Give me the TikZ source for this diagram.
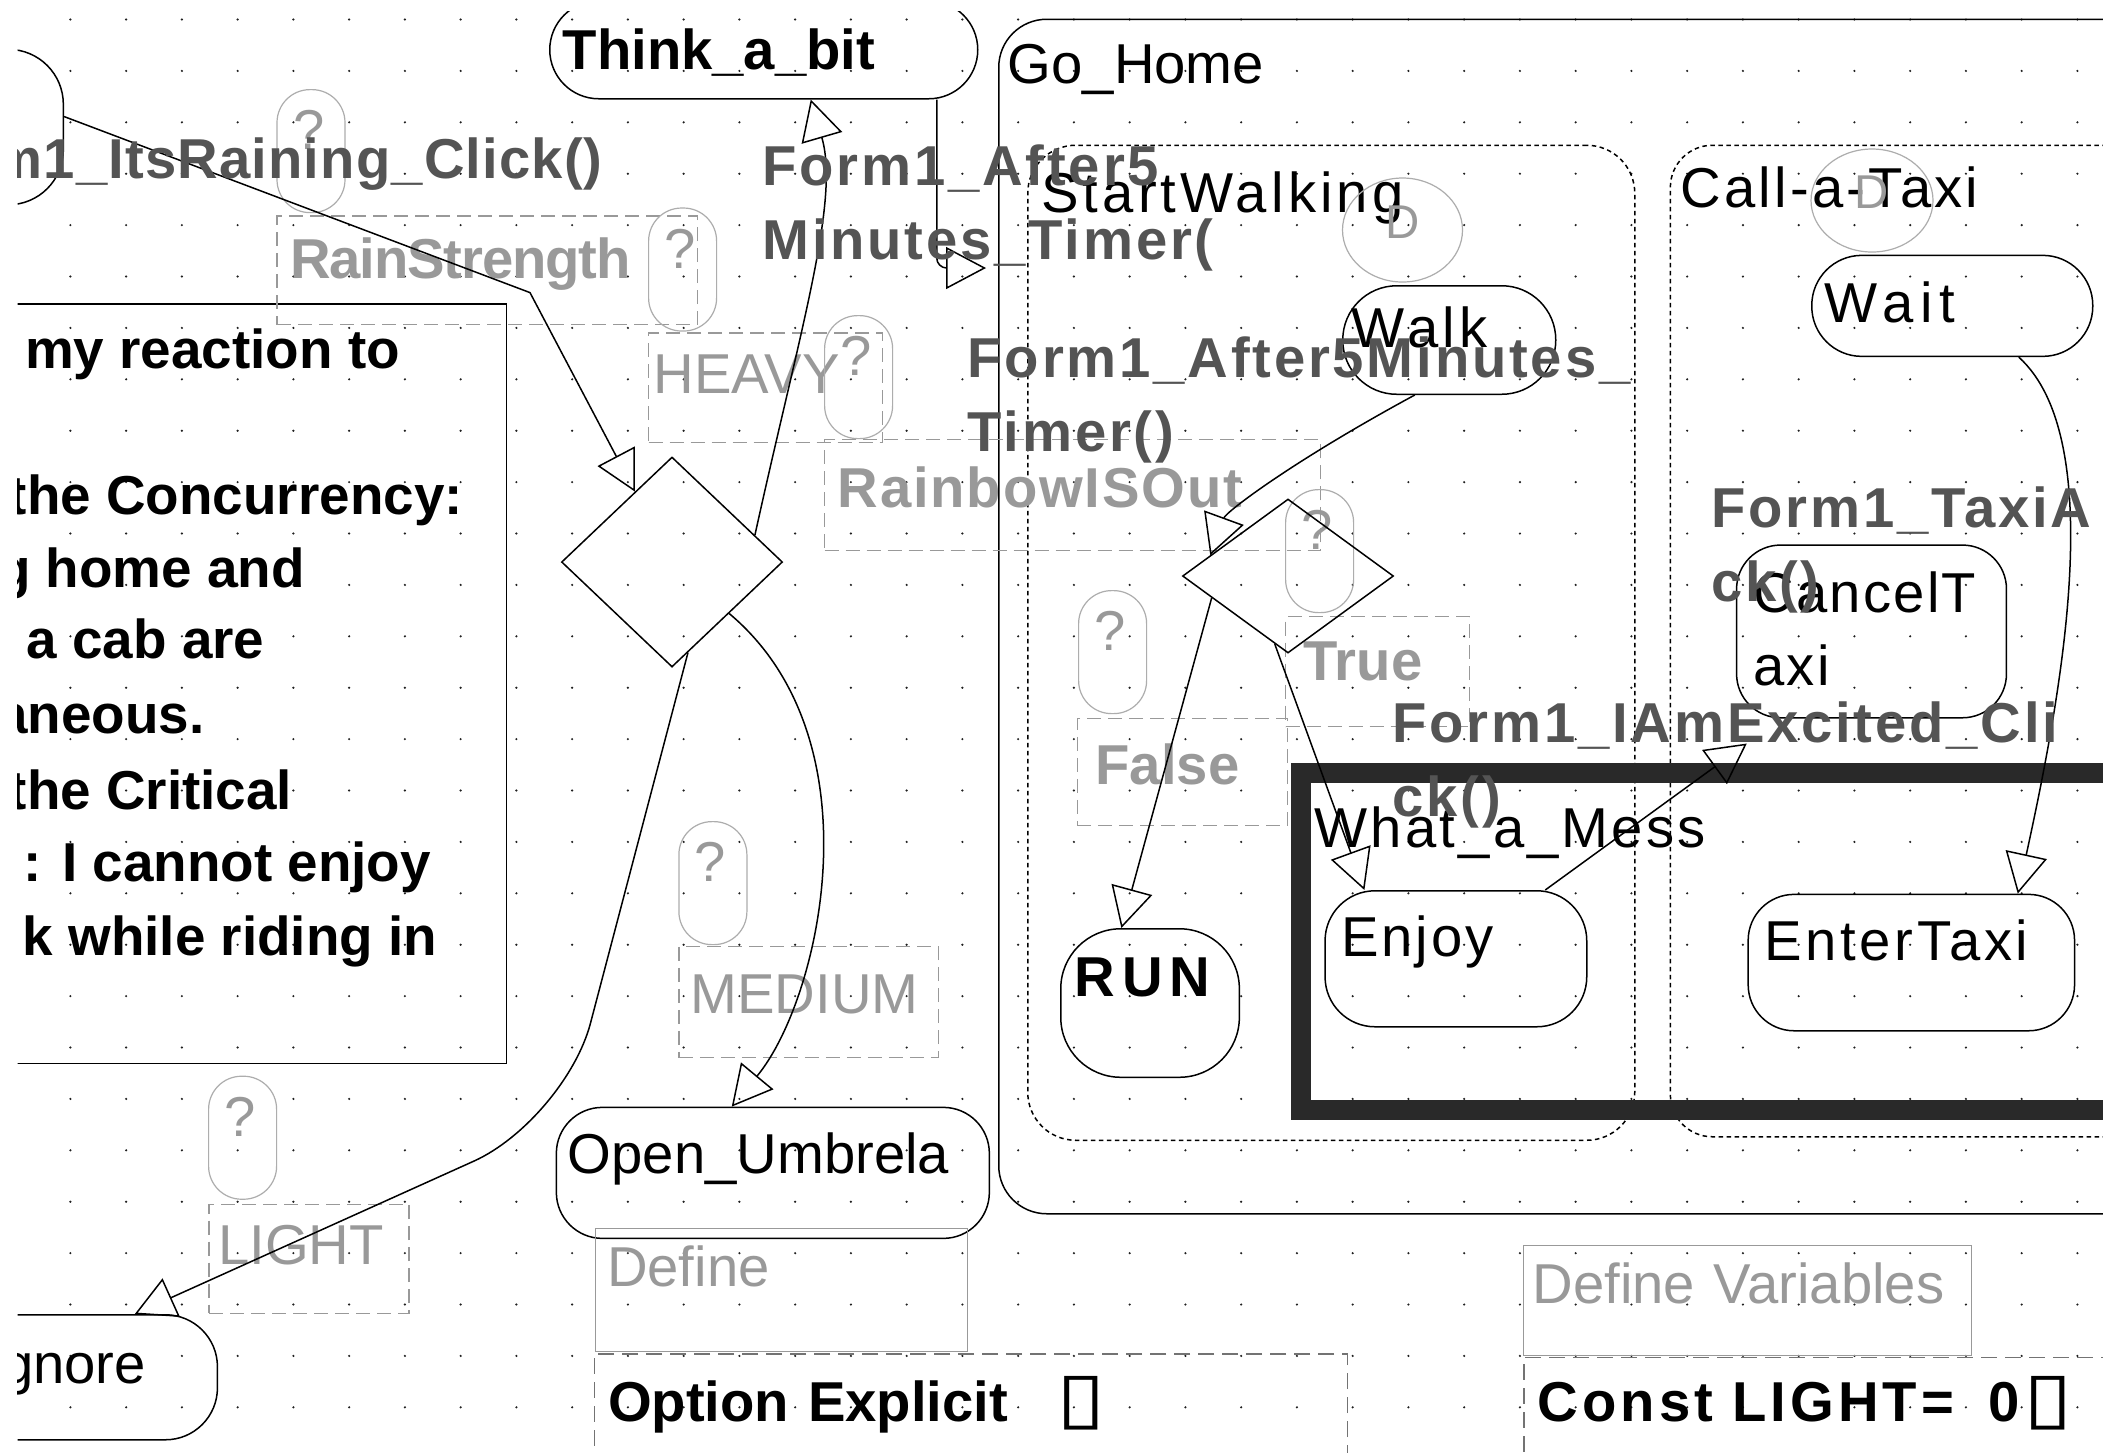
\documentclass[tikz,border=0pt]{standalone}
\usepackage{fontspec}
\setmainfont{Liberation Sans}
\newfontfamily\boxglyphfont{DejaVu Sans}
\usepackage{graphicx}
\usepackage{tikz}
\usetikzlibrary{shapes.geometric, arrows.meta}
\usepackage{xcolor}

\definecolor{labelgray}{gray}{0.33}
\definecolor{guardgray}{gray}{0.6}
\definecolor{pillgray}{gray}{0.68}
\definecolor{messgray}{gray}{0.16}
\definecolor{codegray}{gray}{0.45}
\definecolor{dotgray}{gray}{0.12}

\newcommand{\chartfont}{\fontsize{16}{21}\selectfont}
\newcommand{\histfont}{\fontsize{13.5}{16}\selectfont}
\newcommand{\notefont}{\fontsize{15.6}{21}\selectfont}
\newcommand{\emptybox}{\scalebox{1.6}[1.25]{\mdseries\boxglyphfont ▯}}

\tikzset{
	statebox/.style={draw, line width=0.15mm, rounded corners=#1, anchor=north west, inner ysep=0pt, align=left, font=\chartfont},
	regionbox/.style={statebox=#1, dash pattern=on 0.45mm off 0.35mm},
	guardbox/.style={draw=guardgray, line width=0.12mm, dash pattern=on 1.4mm off 0.7mm, anchor=north west, inner ysep=0pt, align=left, text=guardgray, font=\chartfont},
	definebox/.style={draw=guardgray, line width=0.12mm, anchor=north west, inner ysep=0pt, align=left, text=guardgray, font=\chartfont},
	codebox/.style={draw=codegray, line width=0.12mm, dash pattern=on 1.6mm off 0.8mm, anchor=north west, inner ysep=0pt, align=left, font=\chartfont\bfseries},
	pill/.style={draw=pillgray, line width=0.12mm, rounded corners=3.3mm, anchor=north west, inner xsep=1.6mm, inner ysep=0pt, text width=3.6mm, text height=6mm, text depth=6.3mm, text=guardgray, font=\chartfont},
	histcircle/.style={draw=pillgray, line width=0.12mm, ellipse, inner sep=0pt, text=guardgray, font=\histfont, text height=3.4mm, text depth=1.8mm},
	choice/.style={draw, diamond, line width=0.15mm, inner sep=0pt},
	eventlabel/.style={anchor=base west, inner sep=0pt, align=left, text=labelgray, font=\chartfont\bfseries\addfontfeatures{LetterSpace=5}},
	notetext/.style={anchor=base west, inner sep=0pt, font=\notefont\bfseries},
	trans/.style={draw, line width=0.15mm, -{Triangle[open, length=4mm, width=4.2mm]}},
}

\begin{document}
\begin{tikzpicture}[x=0.1mm, y=-0.1mm]
	\useasboundingbox (0,0) rectangle (2103,1452);
	\fill[white] (0,0) rectangle (2103,1452);
	\clip (17.5,11.5) rectangle (2103,1452);

	\foreach \i in {0,...,36}
		\foreach \j in {0,...,27}
			\fill[dotgray] ({70.4+55.75*\i},{19.5+51.4*\j}) circle (0.12mm);

	\node[draw, line width=0.15mm, anchor=north west, inner sep=0pt, minimum width=55.56mm, minimum height=75.96mm] (note) at (-50,303) {};
	\foreach \x/\y/\t [count=\i] in {24.5/368/{my reaction to}, 8.2/514/{the Concurrency:}, -3.5/587/{g home and}, 26/658/{a cab are}, -3.3/733/{aneous.}, 8.2/809/{the Critical}, 23/881/{: I cannot enjoy}, 22/955/{k while riding in}}
		\node[notetext] (note\i) at (\x,\y) {\t};

	\node[statebox=4.8mm, inner xsep=0.9mm, text width=128.4mm, text height=6.39mm, text depth=113.06mm] (gohome) at (998,18.5) {Go\_Home};
	\node[regionbox=4.8mm, inner xsep=1.35mm, text width=58mm, text height=6.75mm, text depth=92.75mm, font=\chartfont\addfontfeatures{LetterSpace=7.4}] (walking) at (1027,144.5) {StartWalking};
	\node[regionbox=4.2mm, inner xsep=1.04mm, text width=60.96mm, text height=6.25mm, text depth=92.9mm, font=\chartfont\addfontfeatures{LetterSpace=5.7}] (calltaxi) at (1669.6,144.5) {Call-a-Taxi};

	\node[guardbox, inner xsep=1.3mm, text width=39.44mm, text height=6.25mm, text depth=4.62mm, font=\chartfont\bfseries\addfontfeatures{LetterSpace=-2}] (rainstrength) at (276.4,215.3) {RainStrength};
	\node[guardbox, inner xsep=0.48mm, text width=22.44mm, text height=6.06mm, text depth=4.9mm] (heavy) at (648,332.4) {HEAVY};
	\node[guardbox, inner xsep=1.3mm, text width=46.97mm, text height=6.8mm, text depth=4.3mm, font=\chartfont\bfseries\addfontfeatures{LetterSpace=3.3}] (rainbow) at (824,439) {RainbowISOut};
	\node[guardbox, inner xsep=1.8mm, text width=14.8mm, text height=6.4mm, text depth=4.6mm, font=\chartfont\bfseries] (guardtrue) at (1285,616) {True};
	\node[guardbox, inner xsep=1.84mm, text width=17.36mm, text height=6.6mm, text depth=4.1mm, font=\chartfont\bfseries] (guardfalse) at (1076.6,718) {False};
	\node[guardbox, inner xsep=1.17mm, text width=23.6mm, text height=6.7mm, text depth=4.4mm] (medium) at (678.3,946) {MEDIUM};
	\node[guardbox, inner xsep=0.92mm, text width=18.16mm, text height=6.02mm, text depth=4.86mm] (light) at (208.4,1203.8) {LIGHT};

	\foreach \n/\x/\y in {a/276.4/89, b/648/207.4, c/824/315, d/1078/590, e/1285/489, f/678.3/821, g/208/1075.6}
		\node[pill] (cond\n) at (\x,\y) {?};

	\node[histcircle, minimum width=12mm, minimum height=10.4mm] (walkinit) at (1402.5,230) {D};
	\node[histcircle, minimum width=12.2mm, minimum height=10.3mm] (taxiinit) at (1872,200.5) {D};

	\node[statebox=5.5mm, inner xsep=0pt, text width=16.26mm, text height=15.54mm, text depth=0pt] (idle) at (-100,48.6) {};
	\node[statebox=4.9mm, inner xsep=1.3mm, text width=40.2mm, text height=6.85mm, text depth=2.95mm, font=\chartfont\bfseries] (think) at (549,0) {Think\_a\_bit};
	\node[statebox=5.4mm, inner xsep=0.9mm, text width=19.5mm, text height=6.2mm, text depth=4.65mm, font=\chartfont\addfontfeatures{LetterSpace=8}] (walk) at (1342,285) {Walk};
	\node[statebox=5mm, inner xsep=1.3mm, text width=25.5mm, text height=6.72mm, text depth=3.38mm, font=\chartfont\addfontfeatures{LetterSpace=12}] (wait) at (1811,254.6) {Wait};
	\node[statebox=4.4mm, inner xsep=1.68mm, text width=23.63mm, text height=6.71mm, text depth=10.56mm, font=\chartfont\addfontfeatures{LetterSpace=4}] (canceltaxi) at (1735.8,544.3) {CancelT\\axi};
	\node[draw=messgray, line width=2mm, anchor=north west, inner ysep=0pt, inner xsep=1.4mm, align=left, font=\chartfont\addfontfeatures{LetterSpace=5.7}, text width=98.15mm, text height=7.4mm, text depth=26.25mm] (mess) at (1290.5,763) {What\_a\_Mess};
	\node[statebox=5mm, inner xsep=1.62mm, text width=22.93mm, text height=6.6mm, text depth=7mm, font=\chartfont\addfontfeatures{LetterSpace=5.3}] (enjoy) at (1324.3,890) {Enjoy};
	\node[statebox=4.6mm, inner xsep=1.62mm, text width=29.4mm, text height=6.62mm, text depth=7.02mm, font=\chartfont\addfontfeatures{LetterSpace=6.6}] (entertaxi) at (1747.4,893.6) {EnterTaxi};
	\node[statebox=6mm, inner xsep=1.4mm, text width=15.06mm, text height=6.8mm, text depth=8.05mm, font=\chartfont\bfseries\addfontfeatures{LetterSpace=12}] (run) at (1060,928) {RUN};
	\node[statebox=4.6mm, inner xsep=1.14mm, text width=41.02mm, text height=6.62mm, text depth=6.48mm] (umbrella) at (555.6,1106.6) {Open\_Umbrela};
	\node[statebox=5.2mm, inner xsep=5.13mm, text width=16.41mm, text height=6.85mm, text depth=5.65mm] (ignore) at (-50,1314) {gnore};

	\node[choice, minimum width=22.1mm, minimum height=21mm] (dia1) at (672,562) {};
	\node[choice, minimum width=21.1mm, minimum height=15.4mm] (dia2) at (1288,576) {};

	\coordinate (rainbend) at (530,292.6);
	\coordinate (lightbend) at (565,1120);
	\coordinate (homeentry) at (986,268);
	\draw[trans] ([yshift=1.05mm]idle.east) -- (rainbend) -- (dia1);
	\draw[trans] (dia1.18) .. controls (800,330) and (840,200) .. ([xshift=4.7mm]think.south);
	\draw[trans, rounded corners=1mm] ([xshift=17.3mm]think.south) |- (homeentry);
	\draw[trans] (dia1.-42) .. controls (880,740) and (820,1000) .. ([xshift=-4.11mm]umbrella.north);
	\draw[trans, rounded corners=10mm] (dia1.-80) -- (lightbend) -- ([xshift=5.07mm]ignore.north);
	\draw[trans] ([xshift=-3.45mm]walk.south) .. controls (1291,462) and (1226,512) .. (dia2.165);
	\draw[trans] (dia2.-164) -- ([xshift=-2.87mm]run.north);
	\draw[trans] (dia2.-101) -- ([xshift=-9.15mm]enjoy.north);
	\draw[trans] ([xshift=-4.23mm]enjoy.north east) -- ([shift={(1.1mm,-2.5mm)}]canceltaxi.south west);
	\draw[trans] ([xshift=6.65mm]wait.south) .. controls (2110,440) and (2060,700) .. ([xshift=10.64mm]entertaxi.north);

	\node[eventlabel, font=\chartfont\bfseries\addfontfeatures{LetterSpace=2}] (rainclick) at (-8,178) {m1\_ItsRaining\_Click()};
	\node[eventlabel] (timerA) at (761.8,259) {Form1\_After5\\Minutes\_Timer(};
	\node[eventlabel] (timerB) at (967,451.4) {Form1\_After5Minutes\_\\Timer()};
	\node[eventlabel] (taxiclick) at (1710.6,601) {Form1\_TaxiA\\ck()};
	\node[eventlabel] (exciteclick) at (1391.7,816.7) {Form1\_IAmExcited\_Cli\\ck()};

	\node[definebox, inner xsep=1.15mm, text width=34.9mm, text height=5.8mm, text depth=6.5mm] (define) at (595,1228) {Define};
	\node[definebox, inner xsep=0.9mm, text width=42.96mm, text height=5.78mm, text depth=5.24mm] (definevars) at (1523,1244.6) {Define Variables};
	\node[codebox, inner xsep=1.35mm, text width=72.55mm, text height=6.71mm, text depth=7.95mm] (optexplicit) at (594,1353.4) {Option Explicit\hspace{3mm} \emptybox};
	\node[codebox, inner xsep=1.34mm, text width=74.99mm, text height=6.39mm, text depth=7.95mm, font=\chartfont\bfseries\addfontfeatures{LetterSpace=7.4}] (constlight) at (1523.3,1356.6) {Const LIGHT=\hspace{1.5mm} 0\hspace{0.4mm}\emptybox};
\end{tikzpicture}
\end{document}
